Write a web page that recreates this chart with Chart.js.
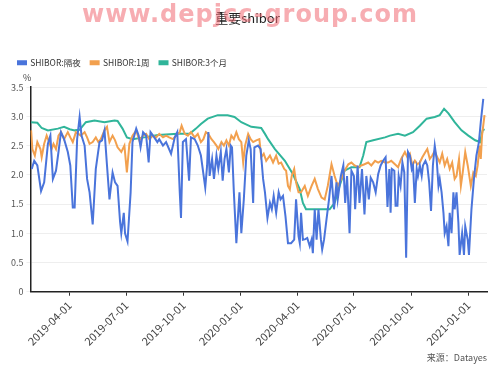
<!DOCTYPE html>
<html>
<head>
<meta charset="utf-8">
<script src="https://cdn.jsdelivr.net/npm/chart.js@4.4.1/dist/chart.umd.min.js"></script>
<style>
  body { margin: 0; background: #fff; }
  #wrap { position: relative; width: 500px; height: 371px; overflow: hidden; }
  #shiborChart { position: absolute; left: 0; top: 0; }
  .txt { position: absolute; font-family: 'Noto Sans CJK SC', 'Noto Sans', sans-serif; color: #444; }
  #watermark { left: 0; width: 500px; top: 0px; text-align: center; font-family: 'DejaVu Sans', sans-serif;
    font-size: 24px; font-weight: bold; color: rgba(240, 105, 115, 0.55); letter-spacing: 1px; }
</style>
</head>
<body>
<div id="wrap">
  <canvas id="shiborChart" width="500" height="371"></canvas>
  <div class="txt" style="left:23px; top:71px; font-size:9px;">%</div>
  <div class="txt" style="right:13px; top:351px; font-size:9px; color:#555;">来源：Datayes</div>
  <div class="txt" id="watermark">www.depjcc-group.com</div>
</div>
<script>
// days counted from 2019-01-01
const tickDays = [90, 181, 273, 365, 456, 547, 639, 731];
const tickLabels = ['2019-04-01', '2019-07-01', '2019-10-01', '2020-01-01',
                    '2020-04-01', '2020-07-01', '2020-10-01', '2021-01-01'];

// SHIBOR overnight
const onDays = [29,33,38,44,49,55,59,63,68,72,76,81,87,91,95,98,102,106,109,114,118,122,127,132,138,142,146,150,154,159,163,167,171,173,177,179,183,188,191,197,201,204,208,213,217,220,226,231,234,240,245,253,259,263,267,269,272,277,282,285,291,296,301,308,311,313,315,319,322,326,329,333,336,339,342,346,349,351,354,358,360,363,366,370,374,378,381,385,387,393,397,401,404,408,412,415,418,422,426,429,433,437,441,446,451,454,458,460,462,465,469,472,476,479,481,484,487,490,494,496,499,503,507,511,515,519,521,526,530,533,536,540,543,547,549,553,556,560,564,567,571,574,578,582,586,590,594,598,601,604,606,608,612,614,617,619,622,625,628,631,634,637,640,642,645,648,650,653,656,658,662,665,668,671,674,677,680,683,685,688,691,693,696,699,701,704,707,709,712,715,717,721,724,726,730,732,736,740,744,748,751,755];
const onVals = [2.10,2.24,2.16,1.72,1.87,2.53,2.67,1.93,2.07,2.39,2.73,2.61,2.39,2.16,1.44,1.44,2.61,2.99,2.67,2.50,1.93,1.70,1.15,2.10,2.56,2.59,2.76,2.16,1.58,2.04,1.87,1.81,1.20,1.00,1.35,1.00,0.86,1.70,2.56,2.79,2.67,2.47,2.73,2.67,2.21,2.73,2.64,2.56,2.61,2.50,2.56,2.36,2.64,2.73,1.70,1.26,2.56,2.61,1.90,2.64,2.61,2.50,2.33,1.78,2.16,2.73,1.98,2.27,1.93,2.33,2.10,2.39,1.90,2.27,2.44,2.04,2.50,2.47,1.70,0.83,1.18,1.70,1.00,1.58,2.33,2.59,2.44,1.52,2.47,2.50,2.44,1.93,1.70,1.26,1.52,1.41,1.64,1.35,1.70,1.58,1.64,1.29,0.83,0.83,0.89,1.58,0.95,0.83,1.35,0.89,0.90,0.92,0.78,0.89,0.66,1.41,0.89,1.41,0.89,0.72,0.89,1.24,1.58,1.98,1.41,1.87,1.58,1.98,2.16,1.52,1.98,1.00,2.07,1.98,1.41,2.16,1.52,2.10,1.32,1.98,1.58,1.95,1.87,1.70,2.01,2.16,2.24,2.30,1.45,2.10,1.35,2.10,2.07,1.47,1.47,1.98,1.81,2.21,2.04,0.58,2.39,2.33,2.10,2.16,1.52,2.10,1.98,2.16,1.98,2.16,2.24,2.16,1.87,1.38,2.16,2.50,2.27,1.81,1.93,1.70,1.35,1.00,1.12,0.78,1.35,1.00,1.70,1.41,1.70,1.18,0.63,1.00,0.63,1.12,0.89,0.63,1.41,1.93,2.33,2.56,2.90,3.30];

// SHIBOR 1 week
const wkDays = [28,30,34,38,43,45,49,53,57,61,64,68,72,76,81,87,91,95,100,104,108,114,118,122,127,132,136,140,146,150,154,159,163,167,173,178,182,186,191,197,202,208,213,218,224,229,234,240,245,250,256,261,267,270,275,280,285,291,296,301,305,309,313,318,322,326,329,334,338,342,346,350,354,358,362,366,369,372,377,381,385,390,395,398,402,406,412,417,422,426,430,435,438,441,444,447,451,454,458,462,468,473,479,484,489,495,500,505,511,516,521,527,532,538,543,548,554,559,564,570,575,581,586,591,597,602,607,613,618,623,629,633,637,641,645,649,653,657,662,665,669,673,677,681,685,689,693,697,701,705,709,712,716,719,722,726,730,735,739,743,746,749,751,753,757];
const wkVals = [2.76,2.44,2.33,2.56,2.44,2.30,2.53,2.67,2.56,2.44,2.53,2.44,2.67,2.73,2.61,2.73,2.64,2.56,2.73,2.70,2.67,2.73,2.64,2.53,2.56,2.64,2.56,2.61,2.76,2.82,2.56,2.67,2.59,2.47,2.39,2.50,2.04,2.53,2.67,2.76,2.59,2.67,2.70,2.61,2.67,2.64,2.70,2.64,2.67,2.64,2.61,2.67,2.73,2.84,2.70,2.67,2.73,2.64,2.70,2.56,2.61,2.73,2.70,2.61,2.56,2.50,2.44,2.56,2.50,2.59,2.50,2.67,2.61,2.73,2.61,2.56,2.21,2.50,2.70,2.61,2.56,2.59,2.61,2.30,2.36,2.24,2.33,2.21,2.33,2.19,2.21,2.10,2.07,1.81,1.75,1.98,2.10,1.87,1.70,1.70,1.81,1.64,1.81,1.93,1.76,1.61,1.58,1.81,2.18,1.98,1.81,1.93,2.07,2.18,2.21,2.16,2.13,2.16,2.18,2.21,2.16,2.24,2.21,2.24,2.21,2.21,2.24,2.18,2.13,2.27,2.39,2.30,2.36,2.16,2.24,2.18,2.21,2.30,2.39,2.44,2.27,2.33,2.41,2.30,2.21,2.36,2.16,2.27,2.10,2.21,1.93,1.98,2.27,1.81,2.04,2.39,2.16,1.81,2.04,1.98,2.16,2.50,2.27,2.67,3.02];

// SHIBOR 3 months
const m3Days = [28,38,45,55,71,81,90,98,106,116,130,146,162,167,175,182,191,210,232,264,283,293,301,312,328,344,355,366,382,398,404,409,420,436,449,460,465,470,508,516,524,532,543,556,562,567,578,597,605,618,629,642,653,664,677,685,692,699,709,720,731,742,750,754,757];
const m3Vals = [2.90,2.89,2.80,2.76,2.79,2.82,2.78,2.76,2.77,2.90,2.93,2.90,2.93,2.92,2.79,2.64,2.61,2.64,2.68,2.70,2.70,2.79,2.87,2.96,3.02,3.02,2.99,2.90,2.82,2.80,2.70,2.61,2.44,2.24,2.01,1.75,1.52,1.41,1.41,1.52,1.81,2.07,2.13,2.13,2.33,2.56,2.59,2.64,2.67,2.70,2.67,2.73,2.84,2.96,2.99,3.02,3.13,3.05,2.90,2.76,2.67,2.59,2.56,2.76,2.78];

function toPoints(days, vals) {
  return days.map((d, i) => ({ x: d, y: vals[i] }));
}

// leaves room under the legend for the "%" unit label
const legendGap = {
  id: 'legendGap',
  beforeUpdate(chart) {
    const legend = chart.legend;
    if (legend && !legend._gapPatched) {
      const fit = legend.fit;
      legend.fit = function () {
        fit.call(this);
        this.height += 10;
      };
      legend._gapPatched = true;
    }
  }
};

const ctx = document.getElementById('shiborChart').getContext('2d');
const fontFamily = "'Noto Sans CJK SC', 'Noto Sans', sans-serif";

new Chart(ctx, {
  type: 'line',
  data: {
    datasets: [
      { label: 'SHIBOR:隔夜', data: toPoints(onDays, onVals), borderColor: '#4a74db', backgroundColor: '#4a74db' },
      { label: 'SHIBOR:1周', data: toPoints(wkDays, wkVals), borderColor: '#f2a04e', backgroundColor: '#f2a04e' },
      { label: 'SHIBOR:3个月', data: toPoints(m3Days, m3Vals), borderColor: '#30b59a', backgroundColor: '#30b59a' }
    ]
  },
  options: {
    responsive: false,
    animation: false,
    layout: { padding: { left: 8, right: 13, top: 0, bottom: 20 } },
    elements: {
      point: { radius: 0 },
      line: { borderWidth: 2, tension: 0 }
    },
    plugins: {
      title: {
        display: true,
        text: '重要shibor',
        color: '#222',
        font: { family: fontFamily, size: 13, weight: 'normal' },
        padding: { top: 10, bottom: 23 }
      },
      legend: {
        align: 'start',
        labels: {
          boxWidth: 8,
          boxHeight: 3,
          color: '#333',
          font: { family: fontFamily, size: 8.5 },
          padding: 10
        }
      },
      tooltip: { enabled: false }
    },
    scales: {
      x: {
        type: 'linear',
        min: 27,
        max: 761,
        afterBuildTicks: (scale) => { scale.ticks = tickDays.map(v => ({ value: v })); },
        ticks: {
          autoSkip: false,
          maxRotation: 45,
          minRotation: 45,
          color: '#444',
          font: { family: fontFamily, size: 11 },
          callback: (v) => tickLabels[tickDays.indexOf(v)]
        },
        grid: { drawOnChartArea: false, tickLength: 4, color: '#333' },
        border: { color: '#222', width: 1.5 }
      },
      y: {
        min: 0,
        max: 3.5,
        ticks: { stepSize: 0.5, color: '#555', font: { family: fontFamily, size: 9 }, padding: 3 },
        grid: { color: '#eeeeee', tickLength: 4 },
        border: { color: '#222', width: 1.5 }
      }
    }
  },
  plugins: [legendGap]
});
</script>
</body>
</html>
